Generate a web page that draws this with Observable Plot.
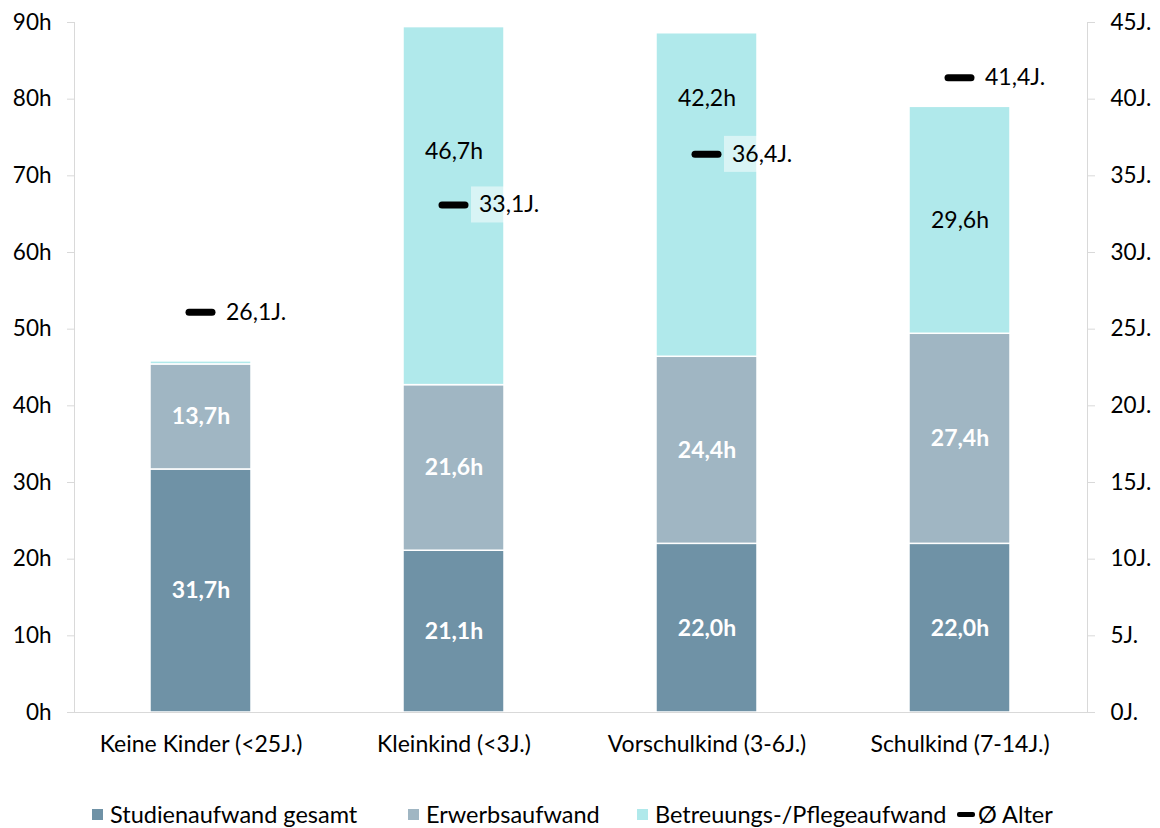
<!DOCTYPE html>
<html>
<head>
<meta charset="utf-8">
<script src="https://cdn.jsdelivr.net/npm/d3@7"></script>
<script src="https://cdn.jsdelivr.net/npm/@observablehq/plot@0.6"></script>
<style>
  html, body { margin: 0; padding: 0; background: #fff; }
  body { width: 1160px; height: 828px; overflow: hidden; font-family: Lato, "Noto Sans", sans-serif; }
  #legend { position: relative; height: 33px; font-size: 23.5px; color: #000; }
  .item { position: absolute; top: 5px; display: flex; align-items: center; white-space: nowrap; }
  .sw { width: 11px; height: 11px; margin-right: 7px; }
  .dash { width: 18px; height: 5px; background: #000; border-radius: 2px; margin-right: 3px; }
</style>
</head>
<body>
<div id="chart"></div>
<div id="legend"></div>
<script>
// ---- data ----
const categories = ["Keine Kinder (<25J.)", "Kleinkind (<3J.)", "Vorschulkind (3-6J.)", "Schulkind (7-14J.)"];
const seriesNames = ["Studienaufwand gesamt", "Erwerbsaufwand", "Betreuungs-/Pflegeaufwand"];
const studien = [31.7, 21.1, 22.0, 22.0];
const erwerb = [13.7, 21.6, 24.4, 27.4];
const betreuung = [0.4, 46.7, 42.2, 29.6];
const alter = [26.1, 33.1, 36.4, 41.4];
const hTicks = [0, 10, 20, 30, 40, 50, 60, 70, 80, 90];
const colors = ["#6f92a6", "#a0b6c3", "#b0e9eb"];
const showLabel = [[true, true, true, true], [true, true, true, true], [false, true, true, true]];
const betreuungLabelDy = [0, -54, -96, 0];

// ---- build stacked rows ----
const seriesValues = [studien, erwerb, betreuung];
const rows = [];
categories.forEach((cat, i) => {
  let base = 0;
  seriesValues.forEach((vals, s) => {
    const v = vals[i];
    rows.push({cat, series: seriesNames[s], s, i, value: v, y1: base, y2: base + v, mid: base + v / 2,
               show: showLabel[s][i]});
    base += v;
  });
});
const ages = categories.map((cat, i) => ({cat, age: alter[i], yh: alter[i] * 2}));
const fmt = v => v.toFixed(1).replace(".", ",");

const careLabels = categories.map((cat, i) =>
  Plot.text(rows.filter(d => d.show && d.s === 2 && d.i === i), {x: "cat", y: "mid", dy: betreuungLabelDy[i],
    text: d => fmt(d.value) + "h", fill: "#000", fontSize: 23}));

const plot = Plot.plot({
  width: 1160,
  height: 795,
  marginLeft: 74,
  marginRight: 73,
  marginTop: 22,
  marginBottom: 83,
  style: {fontFamily: "Lato, 'Noto Sans', sans-serif", color: "#000", background: "#fff"},
  x: {domain: categories, paddingInner: 0.6, paddingOuter: 0.3, axis: null, label: null},
  y: {domain: [0, 90], axis: null},
  color: {domain: seriesNames, range: colors},
  marks: [
    Plot.barY(rows, {x: "cat", y1: "y1", y2: "y2", fill: "series", stroke: "#fff", strokeWidth: 1.5}),
    Plot.text(rows.filter(d => d.show && d.s < 2), {x: "cat", y: "mid", text: d => fmt(d.value) + "h",
      fill: "#fff", fontWeight: "bold", fontSize: 23}),
    ...careLabels,
    // semi-transparent label background boxes
    Plot.rect(ages, {x: "cat", y1: d => d.yh - 2.35, y2: d => d.yh + 2.35, insetLeft: 68, insetRight: 0,
      fill: "#fff", fillOpacity: 0.5}),
    Plot.tickY(ages, {x: "cat", y: "yh", stroke: "#000", strokeWidth: 7, insetLeft: 39, insetRight: 39, strokeLinecap: "round"}),
    Plot.text(ages, {x: "cat", y: "yh", text: d => fmt(d.age) + "J.", textAnchor: "start", dx: 25, fontSize: 23, fill: "#000"}),
    Plot.axisY({anchor: "left", ticks: hTicks, tickFormat: d => d + "h", tickSize: 7, tickPadding: 16,
      fontSize: 22.5, stroke: "#d9d9d9", fill: "#000", label: null}),
    Plot.axisY({anchor: "right", ticks: hTicks, tickFormat: d => (d / 2) + "J.", tickSize: 7, tickPadding: 16,
      fontSize: 22.5, stroke: "#d9d9d9", fill: "#000", label: null}),
    Plot.axisX({anchor: "bottom", tickSize: 0, tickPadding: 23, fontSize: 23, fill: "#000", label: null}),
    Plot.frame({anchor: "left", stroke: "#d9d9d9"}),
    Plot.frame({anchor: "right", stroke: "#d9d9d9"}),
    Plot.ruleY([0], {stroke: "#d9d9d9"})
  ]
});
document.getElementById("chart").appendChild(plot);

// ---- legend ----
const legendItems = [
  {label: seriesNames[0], color: colors[0], x: 92},
  {label: seriesNames[1], color: colors[1], x: 408},
  {label: seriesNames[2], color: colors[2], x: 637},
  {label: "Ø Alter", color: null, x: 957}
];
const legend = d3.select("#legend");
legendItems.forEach(it => {
  const div = legend.append("div").attr("class", "item").style("left", it.x + "px");
  if (it.color) div.append("div").attr("class", "sw").style("background", it.color);
  else div.append("div").attr("class", "dash");
  div.append("span").text(it.label);
});
</script>
</body>
</html>
